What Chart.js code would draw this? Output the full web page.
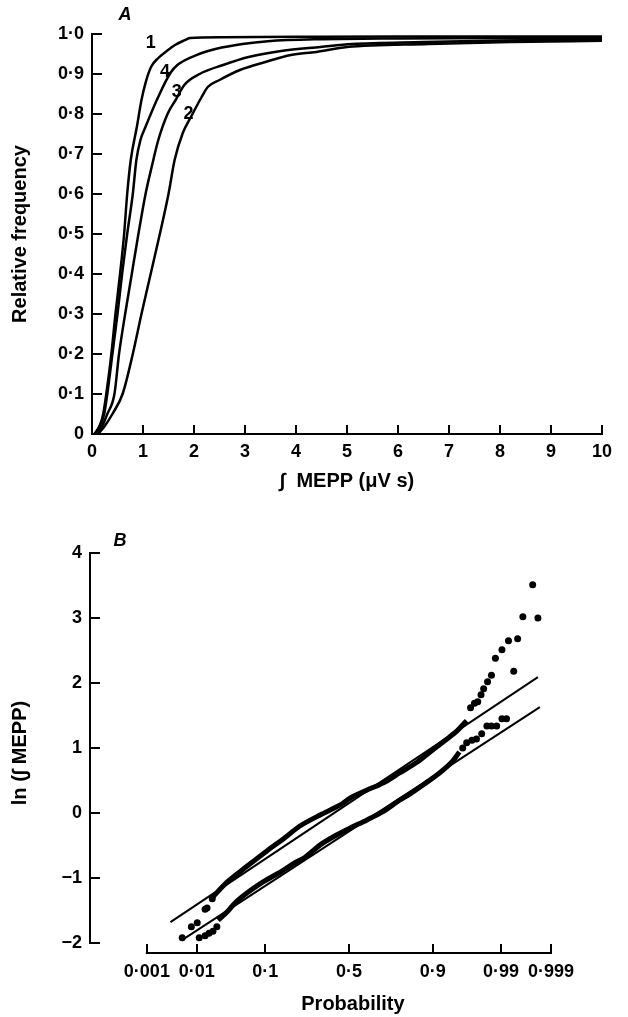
<!DOCTYPE html>
<html>
<head>
<meta charset="utf-8">
<script src="https://cdn.jsdelivr.net/npm/chart.js@4.4.1/dist/chart.umd.min.js"></script>
<style>
  html, body { margin: 0; padding: 0; background: #fff; }
  #wrap { position: relative; width: 628px; height: 1017px; }
  canvas { position: absolute; left: 0; }
  #chartA { top: 0; }
  #chartB { top: 500px; }
</style>
</head>
<body>
<div id="wrap">
  <canvas id="chartA" width="628" height="500"></canvas>
  <canvas id="chartB" width="628" height="517"></canvas>
</div>
<script>
// ---- panel A: cumulative frequency of MEPP integrals, 4 recordings ----
const meppCurve1 = [0.05,0.15,0.22,0.28,0.38,0.46,0.55,0.63,0.69,0.76,0.88,0.97,1.05,1.16,1.3,1.49,1.62,1.81,1.92,2.57,4,6,8,10];
const freqCurve1 = [0,0.02,0.05,0.1,0.2,0.3,0.4,0.5,0.6,0.685,0.768,0.835,0.878,0.918,0.94,0.96,0.972,0.984,0.99,0.992,0.993,0.994,0.994,0.994];
const meppCurve2 = [0.12,0.25,0.4,0.6,0.8,0.97,1.15,1.33,1.5,1.62,1.78,1.96,2.15,2.27,2.5,2.9,3.4,3.9,4.4,5.0,6.6,8.2,10];
const freqCurve2 = [0,0.02,0.05,0.1,0.2,0.3,0.4,0.5,0.6,0.685,0.7525,0.7975,0.8425,0.8675,0.885,0.91,0.93,0.9475,0.955,0.9675,0.975,0.98,0.983];
const meppCurve3 = [0.1,0.2,0.3,0.44,0.53,0.65,0.78,0.91,1.05,1.17,1.3,1.49,1.64,1.81,2.11,2.57,3.07,3.71,4.48,5.1,6.5,8,10];
const freqCurve3 = [0,0.02,0.05,0.1,0.2,0.3,0.4,0.5,0.6,0.6675,0.735,0.8025,0.835,0.8725,0.9,0.9225,0.9425,0.9575,0.9675,0.975,0.98,0.984,0.986];
const meppCurve4 = [0.05,0.15,0.24,0.3,0.4,0.5,0.59,0.69,0.8,0.87,0.95,1.05,1.3,1.54,1.68,2.06,2.44,2.95,3.45,4.5,6,8,10];
const freqCurve4 = [0,0.02,0.05,0.1,0.2,0.3,0.4,0.5,0.6,0.685,0.735,0.768,0.843,0.903,0.923,0.948,0.963,0.975,0.982,0.987,0.989,0.99,0.99];

const xTicksA = [0,1,2,3,4,5,6,7,8,9,10];
const xTickLabelsA = ['0','1','2','3','4','5','6','7','8','9','10'];
const yTicksA = [0,0.1,0.2,0.3,0.4,0.5,0.6,0.7,0.8,0.9,1.0];
const yTickLabelsA = ['0','0·1','0·2','0·3','0·4','0·5','0·6','0·7','0·8','0·9','1·0'];

// curve numbers written beside the curves
const curveNames = ['1','4','3','2'];
const curveNameX = [1.15,1.43,1.66,1.89];
const curveNameY = [0.978,0.905,0.855,0.80];

// ---- panel B: ln(MEPP integral) against normal score (probability plot) ----
const upperTrailZ  = [-2.08,-1.86,-1.56,-1.25,-0.98,-0.75,-0.44,-0.14,0.02,0.27,0.52,0.78,1.04,1.28,1.5,1.65,1.8];
const upperTrailLn = [-1.29,-1.06,-0.82,-0.58,-0.38,-0.2,-0.03,0.12,0.23,0.35,0.46,0.62,0.78,0.97,1.14,1.26,1.42];
const upperDotsZ  = [-2.55,-2.41,-2.32,-2.2,-2.17,-2.09,1.86,1.92,1.97,2.02,2.06,2.12,2.18,2.24,2.34,2.44,2.58,2.66,2.81];
const upperDotsLn = [-1.92,-1.75,-1.69,-1.48,-1.46,-1.32,1.62,1.69,1.71,1.82,1.91,2.02,2.12,2.38,2.51,2.65,2.68,3.02,3.51];
const lowerTrailZ  = [-2.0,-1.86,-1.74,-1.56,-1.36,-1.21,-1.05,-0.85,-0.67,-0.44,-0.21,0.02,0.27,0.52,0.78,0.93,1.16,1.39,1.57,1.69];
const lowerTrailLn = [-1.65,-1.52,-1.38,-1.23,-1.09,-1.0,-0.91,-0.78,-0.68,-0.49,-0.35,-0.23,-0.11,0.02,0.2,0.29,0.45,0.62,0.78,0.94];
const lowerDotsZ  = [-2.29,-2.2,-2.14,-2.08,-2.02,1.74,1.8,1.88,1.95,2.03,2.11,2.18,2.26,2.34,2.41,2.52,2.89];
const lowerDotsLn = [-1.92,-1.89,-1.85,-1.82,-1.75,1.0,1.08,1.12,1.14,1.22,1.34,1.34,1.34,1.45,1.45,2.18,3.0];
const fitUpperZ = [-2.73, 2.89];
const fitUpperLn = [-1.68, 2.09];
const fitLowerZ = [-2.56, 2.92];
const fitLowerLn = [-1.96, 1.63];

const probTicks = [0.001,0.01,0.1,0.5,0.9,0.99,0.999];
const probTickLabels = ['0·001','0·01','0·1','0·5','0·9','0·99','0·999'];
const yTicksB = [-2,-1,0,1,2,3,4];
const yTickLabelsB = ['\u22122','\u22121','0','1','2','3','4'];

// inverse normal cdf (Acklam) -> places the probability ticks
function probit(p) {
  const a = [-39.69683028665376, 220.9460984245205, -275.9285104469687, 138.3577518672690, -30.66479806614716, 2.506628277459239];
  const b = [-54.47609879822406, 161.5858368580409, -155.6989798598866, 66.80131188771972, -13.28068155288572];
  const c = [-0.007784894002430293, -0.3223964580411365, -2.400758277161838, -2.549732539343734, 4.374664141464968, 2.938163982698783];
  const d = [0.007784695709041462, 0.3224671290700398, 2.445134137142996, 3.754408661907416];
  const tail = q => (((((c[0]*q+c[1])*q+c[2])*q+c[3])*q+c[4])*q+c[5]) / ((((d[0]*q+d[1])*q+d[2])*q+d[3])*q+1);
  if (p < 0.02425) return tail(Math.sqrt(-2 * Math.log(p)));
  if (p > 1 - 0.02425) return -tail(Math.sqrt(-2 * Math.log(1 - p)));
  const q = p - 0.5, r = q * q;
  return (((((a[0]*r+a[1])*r+a[2])*r+a[3])*r+a[4])*r+a[5])*q / (((((b[0]*r+b[1])*r+b[2])*r+b[3])*r+b[4])*r+1);
}
const probTickZ = probTicks.map(probit);

const pts = (xs, ys) => xs.map((x, i) => ({ x: x, y: ys[i] }));

const FAMILY = '"Liberation Sans", Arial, sans-serif';
Chart.defaults.font.family = FAMILY;
Chart.defaults.color = '#000';
const tickFont = { size: 18, weight: 'bold' };
const titleFont = { size: 20, weight: 'bold' };

// ---------- chart A ----------
const curveStyle = { showLine: true, borderColor: '#000', borderWidth: 2.5, pointRadius: 0, cubicInterpolationMode: 'monotone', fill: false };

const labelsA = {
  id: 'labelsA',
  afterDraw(chart) {
    const { ctx, scales: { x, y } } = chart;
    ctx.save();
    ctx.fillStyle = '#000';
    ctx.textAlign = 'center';
    ctx.textBaseline = 'middle';
    ctx.font = 'bold 18px ' + FAMILY;
    curveNames.forEach((t, i) => {
      ctx.fillText(t, x.getPixelForValue(curveNameX[i]), y.getPixelForValue(curveNameY[i]));
    });
    ctx.font = 'italic bold 18px ' + FAMILY;
    ctx.fillText('A', 125, 15);
    ctx.restore();
  }
};

new Chart(document.getElementById('chartA'), {
  type: 'scatter',
  data: {
    datasets: [
      { label: '1', data: pts(meppCurve1, freqCurve1), ...curveStyle },
      { label: '2', data: pts(meppCurve2, freqCurve2), ...curveStyle },
      { label: '3', data: pts(meppCurve3, freqCurve3), ...curveStyle },
      { label: '4', data: pts(meppCurve4, freqCurve4), ...curveStyle }
    ]
  },
  options: {
    responsive: false,
    animation: false,
    layout: { padding: { left: 0, top: 34, right: 11, bottom: 0 } },
    plugins: { legend: { display: false }, tooltip: { enabled: false } },
    scales: {
      x: {
        type: 'linear', min: 0, max: 10,
        afterBuildTicks: s => { s.ticks = xTicksA.map(v => ({ value: v })); },
        afterFit: s => { s.height = 66; },
        border: { color: '#000', width: 2 },
        grid: { drawOnChartArea: false, drawTicks: true, tickLength: -9, color: '#000', lineWidth: 2 },
        ticks: { padding: 16, font: tickFont, maxRotation: 0, autoSkip: false, callback: (v, i) => xTickLabelsA[i] },
        title: { display: true, text: '\u222B  MEPP (\u03BCV s)', font: titleFont, padding: { top: 0, bottom: 7 } }
      },
      y: {
        type: 'linear', min: 0, max: 1,
        afterBuildTicks: s => { s.ticks = yTicksA.map(v => ({ value: v })); },
        afterFit: s => { s.width = 92; },
        border: { color: '#000', width: 2 },
        grid: { drawOnChartArea: false, drawTicks: true, tickLength: -10, color: '#000', lineWidth: 2 },
        ticks: { padding: 18, font: tickFont, autoSkip: false, callback: (v, i) => yTickLabelsA[i] },
        title: { display: true, text: 'Relative frequency', font: titleFont, padding: { top: 8, bottom: 0 } }
      }
    }
  },
  plugins: [labelsA]
});

// ---------- chart B ----------
const axesB = {
  id: 'axesB',
  afterDraw(chart) {
    const { ctx, chartArea, scales: { x, y } } = chart;
    ctx.save();
    ctx.strokeStyle = '#000';
    ctx.lineWidth = 2;
    ctx.beginPath();
    ctx.moveTo(chartArea.left, y.getPixelForValue(yTicksB[yTicksB.length - 1]) - 1);
    ctx.lineTo(chartArea.left, y.getPixelForValue(yTicksB[0]) + 1);
    ctx.moveTo(x.getPixelForValue(probTickZ[0]) - 1, chartArea.bottom);
    ctx.lineTo(x.getPixelForValue(probTickZ[probTickZ.length - 1]) + 1, chartArea.bottom);
    ctx.stroke();
    ctx.fillStyle = '#000';
    ctx.textAlign = 'center';
    ctx.textBaseline = 'middle';
    ctx.font = 'bold 20px ' + FAMILY;
    const mid = (x.getPixelForValue(probTickZ[0]) + x.getPixelForValue(probTickZ[probTickZ.length - 1])) / 2;
    ctx.fillText('Probability', mid + 4, 504);
    ctx.font = 'italic bold 18px ' + FAMILY;
    ctx.fillText('B', 120, 41);
    ctx.restore();
  }
};

const trailStyle = { showLine: true, borderColor: '#000', borderWidth: 5, pointRadius: 0, tension: 0.3, fill: false };
const dotStyle = { showLine: false, pointRadius: 3.5, pointBackgroundColor: '#000', pointBorderWidth: 0 };
const fitStyle = { showLine: true, borderColor: '#000', borderWidth: 2, pointRadius: 0, fill: false };

new Chart(document.getElementById('chartB'), {
  type: 'scatter',
  data: {
    datasets: [
      { label: 'fit upper', data: pts(fitUpperZ, fitUpperLn), ...fitStyle },
      { label: 'fit lower', data: pts(fitLowerZ, fitLowerLn), ...fitStyle },
      { label: 'upper', data: pts(upperTrailZ, upperTrailLn), ...trailStyle },
      { label: 'upper dots', data: pts(upperDotsZ, upperDotsLn), ...dotStyle },
      { label: 'lower', data: pts(lowerTrailZ, lowerTrailLn), ...trailStyle },
      { label: 'lower dots', data: pts(lowerDotsZ, lowerDotsLn), ...dotStyle }
    ]
  },
  options: {
    responsive: false,
    animation: false,
    layout: { padding: { left: 0, top: 53, right: 77, bottom: 0 } },
    plugins: { legend: { display: false }, tooltip: { enabled: false } },
    scales: {
      x: {
        type: 'linear', min: -3.96, max: probTickZ[probTickZ.length - 1],
        afterBuildTicks: s => { s.ticks = probTickZ.map(v => ({ value: v })); },
        afterFit: s => { s.height = 64; },
        border: { display: false },
        grid: { drawOnChartArea: false, drawTicks: true, tickLength: -9, color: '#000', lineWidth: 2 },
        ticks: { padding: 17, font: tickFont, maxRotation: 0, autoSkip: false, callback: (v, i) => probTickLabels[i] }
      },
      y: {
        type: 'linear', min: -2.154, max: 4,
        afterBuildTicks: s => { s.ticks = yTicksB.map(v => ({ value: v })); },
        afterFit: s => { s.width = 90; },
        border: { display: false },
        grid: { drawOnChartArea: false, drawTicks: true, tickLength: -10, color: '#000', lineWidth: 2 },
        ticks: { padding: 18, font: tickFont, autoSkip: false, callback: (v, i) => yTickLabelsB[i] },
        title: { display: true, text: 'ln (\u222B MEPP)', font: titleFont, padding: { top: 8, bottom: 0 } }
      }
    }
  },
  plugins: [axesB]
});
</script>
</body>
</html>
